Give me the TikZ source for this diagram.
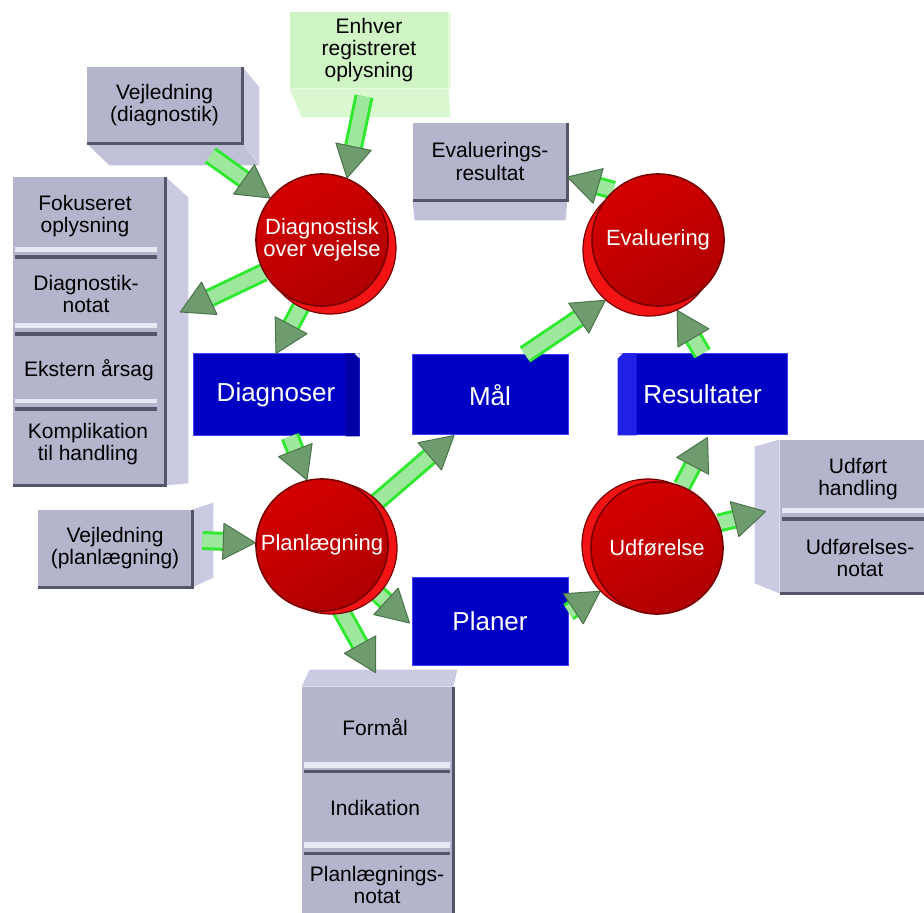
\documentclass[tikz,border=0pt]{standalone}
\usepackage{fontspec}
\setmainfont{Liberation Sans}
\usetikzlibrary{calc}
\definecolor{boxgray}{HTML}{B4B4CC}
\definecolor{boxside}{HTML}{CACAE2}
\definecolor{boxbot}{HTML}{C0C0D8}
\definecolor{boxedge}{HTML}{55556A}
\definecolor{boxlight}{HTML}{E8E8F4}
\definecolor{greenbox}{HTML}{CFF5C4}
\definecolor{greenside}{HTML}{DAF8D0}
\definecolor{bluef}{HTML}{0000C4}
\definecolor{blueside}{HTML}{0000A6}
\definecolor{bluelight}{HTML}{2020E6}
\definecolor{blueedge}{HTML}{4040FF}
\definecolor{redf}{HTML}{C40000}
\definecolor{redf2}{HTML}{D40000}
\definecolor{redf3}{HTML}{B00000}
\definecolor{redb}{HTML}{F21414}
\definecolor{rededge}{HTML}{7A0000}
\definecolor{shaftedge}{HTML}{30E830}
\definecolor{shaftmid}{HTML}{9EE89E}
\definecolor{headg}{HTML}{6E9C6E}
\definecolor{headedge}{HTML}{4A744A}

\pgfdeclarelayer{boxes}\pgfdeclarelayer{arrows}
\pgfsetlayers{boxes,arrows,main}

\tikzset{
 graybox/.style={rectangle, fill=boxgray, inner sep=0pt, align=center, font=\fontsize{10.5}{11}\selectfont, text=black},
 greenbx/.style={graybox, fill=greenbox},
 bluebox/.style={rectangle, fill=bluef, draw=blueedge, line width=0.5pt, inner sep=0pt, font=\fontsize{13}{15}\selectfont, text=white},
 redback/.style={circle, fill=redb, draw=rededge, line width=0.6pt, inner sep=0pt, minimum size=66pt},
 redfront/.style={circle, shading=axis, top color=redf2, bottom color=redf3, shading angle=30, draw=rededge, line width=0.8pt, inner sep=0pt, minimum size=66pt, text=white, align=center, font=\fontsize{11}{11}\selectfont},
 sidefc/.style={fill=boxside},
 botfc/.style={fill=boxbot},
 edgeln/.style={draw=boxedge, line width=1.5pt},
 seplight/.style={fill=boxlight},
 sepdark/.style={fill=boxedge},
 shaftout/.style={draw=shaftedge, line width=9.5pt},
 shaftin/.style={draw=shaftmid, line width=6.5pt},
 headst/.style={fill=headg, draw=headedge, line width=0.5pt, line join=round},
 paneltext/.style={align=center, font=\fontsize{10.5}{11}\selectfont, inner sep=0pt}
}

\newcommand\garrow[2]{%
 \path (#1) coordinate (ga-s) (#2) coordinate (ga-e);
 \coordinate (ga-b) at ($(ga-e)!16pt!(ga-s)$);
 \draw[shaftout] (ga-s) -- (ga-b);
 \draw[shaftin] (ga-s) -- (ga-b);
 \filldraw[headst] (ga-e) -- ($(ga-b)!9pt!90:(ga-s)$) -- ($(ga-b)!9pt!-90:(ga-s)$) -- cycle;
}

\begin{document}
\begin{tikzpicture}[x=0.5pt,y=-0.5pt]
\useasboundingbox (0,0) rectangle (924,913);

\begin{pgfonlayer}{boxes}
\fill[white] (0,0) rectangle (924,913);

% Vejledning (diagnostik)
\node[graybox, minimum width=77.5pt, minimum height=38pt] (vd) at (164.5,105) {Vejledning\\(diagnostik)};
\fill[sidefc] (vd.north east) -- ++(17,21) -- ++(0,77) -- (vd.south east) -- cycle;
\fill[botfc] (vd.south west) -- (vd.south east) -- ++(17,22) -- ($(vd.south west)+(23,22)$) -- cycle;
\draw[edgeln] (vd.north east) -- (vd.south east) -- (vd.south west);

% Enhver registreret oplysning
\node[greenbx, minimum width=79pt, minimum height=38pt] (enh) at (369,50) {Enhver\\registreret\\oplysning};
\fill[greenside] (enh.south west) -- (enh.south east) -- ++(2,29) -- ($(enh.south west)+(12,29)$) -- cycle;
\fill[greenside] (enh.north east) -- ++(2,3) -- ++(0,74) -- (enh.south east) -- cycle;

% Evalueringsresultat
\node[graybox, minimum width=77pt, minimum height=38.5pt] (er) at (490,161.5) {Evaluerings-\\resultat};
\fill[botfc] (er.south west) -- (er.south east) -- ++(-2,20) -- ($(er.south west)+(2,20)$) -- cycle;
\draw[edgeln] (er.north east) -- (er.south east) -- (er.south west);

% Left panel
\node[graybox, minimum width=76pt, minimum height=154pt] (lp) at (89,331) {};
\fill[sidefc] (lp.north east) -- ++(23,21) -- ($(lp.south east)+(23,-2)$) -- (lp.south east) -- cycle;
\draw[edgeln] (lp.north east) -- (lp.south east) -- (lp.south west);
\fill[seplight] (15,247) rectangle (157,252);
\fill[sepdark] (15,255) rectangle (157,259);
\fill[seplight] (15,323) rectangle (157,328);
\fill[sepdark] (15,332) rectangle (157,336);
\fill[seplight] (15,399) rectangle (157,403);
\fill[sepdark] (15,407) rectangle (157,411);
\node[paneltext] (lp1) at (85,216) {Fokuseret\\oplysning};
\node[paneltext] (lp2) at (86,294) {Diagnostik-\\notat};
\node[paneltext] (lp3) at (89,370) {Ekstern årsag};
\node[paneltext] (lp4) at (88,444) {Komplikation\\til handling};

% Vejledning (planlaegning)
\node[graybox, minimum width=77pt, minimum height=38.5pt] (vp) at (115,548.5) {Vejledning\\(planlægning)};
\fill[sidefc] (vp.north east) -- ++(21,-7) -- ++(0,75) -- (vp.south east) -- cycle;
\draw[edgeln] (vp.north east) -- (vp.south east) -- (vp.south west);

% Bottom panel
\node[graybox, minimum width=75.5pt, minimum height=113pt] (bp) at (377.5,800) {};
\fill[sidefc] (bp.north west) -- ++(8,-17) -- ($(bp.north east)+(4,-17)$) -- (bp.north east) -- cycle;
\draw[edgeln] (bp.north east) -- (bp.south east);
\fill[seplight] (304,762) rectangle (450,768);
\fill[sepdark] (304,770) rectangle (450,773);
\fill[seplight] (304,842) rectangle (450,848);
\fill[sepdark] (304,852) rectangle (450,855);
\node[paneltext] (bp1) at (375,727) {Formål};
\node[paneltext] (bp2) at (375,808) {Indikation};
\node[paneltext] (bp3) at (377,885) {Planlægnings-\\notat};

% Right panel
\node[graybox, minimum width=72pt, minimum height=76.5pt] (rp) at (852,516.5) {};
\fill[sidefc] (rp.north west) -- ++(-25,7) -- ($(rp.south west)+(-25,-10)$) -- (rp.south west) -- cycle;
\draw[edgeln] (rp.south west) -- (rp.south east);
\fill[seplight] (782,508) rectangle (924,513);
\fill[sepdark] (782,517) rectangle (924,521);
\node[paneltext] (rp1) at (858,479) {Udført\\handling};
\node[paneltext] (rp2) at (860,558) {Udførelses-\\notat};

% Blue boxes
\node[bluebox, minimum width=83pt, minimum height=41pt] (dia) at (276,395) {Diagnoser};
\fill[blueside] ($(dia.north east)+(-14,0)$) -- ($(dia.north east)+(-5,0)$) -- ($(dia.north east)+(0,5)$) -- (dia.south east) -- ($(dia.south east)+(-14,0)$) -- cycle;
\fill[white] (dia.north east) -- ++(-5,0) -- ++(5,5) -- cycle;
\node[bluebox, minimum width=78pt, minimum height=40pt] (mal) at (490,395) {Mål};
\node[bluebox, minimum width=84.5pt, minimum height=40.5pt] (res) at (702.5,394.5) {Resultater};
\fill[bluelight] ($(res.north west)+(5,0)$) -- ($(res.north west)+(19,0)$) -- ($(res.south west)+(19,0)$) -- (res.south west) -- ($(res.north west)+(0,5)$) -- cycle;
\fill[white] (res.north west) -- ++(5,0) -- ++(-5,5) -- cycle;
\node[bluebox, minimum width=78pt, minimum height=44pt] (pl) at (490,621) {Planer};
\end{pgfonlayer}

% Red circles
\node[redback] (diagb) at (330,248) {};
\node[redfront] (diag) at (322,240) {Diagnostisk\\over vejelse};
\node[redback] (evalb) at (649,250) {};
\node[redfront] (eval) at (658,240) {Evaluering};
\node[redback] (planlb) at (331,548) {};
\node[redfront] (planl) at (322,545) {Planlægning};
\node[redback] (udfb) at (648,545) {};
\node[redfront] (udf) at (657,548) {Udførelse};

% Arrows
\begin{pgfonlayer}{arrows}
\garrow{$(vd.south east)+(-32,12)$}{diag.141}
\garrow{$(enh.south)+(-5,8)$}{diag.68}
\garrow{diag.209}{$(lp.east)+(15,-19)$}
\garrow{diag.-107}{dia.north}
\garrow{$(dia.south)+(14,0)$}{planl.103}
\garrow{planl.38}{$(mal.south)+(-36,0)$}
\garrow{$(mal.north)+(35,0)$}{evalb.-131}
\garrow{eval.132}{$(er.east)+(0,15.5)$}
\garrow{res.north}{evalb.-65}
\garrow{udf.68}{$(res.south)+(5,2)$}
\garrow{udf.22}{$(rp.west)+(-14,-5)$}
\garrow{$(pl.east)+(0,-9)$}{udfb.-136}
\garrow{planl.-41}{$(pl.west)+(-2,2)$}
\garrow{planl.-74}{$(bp.north)+(-2,-14)$}
\garrow{$(vp.east)+(10,-8)$}{planl.178}
\end{pgfonlayer}
\end{tikzpicture}
\end{document}
